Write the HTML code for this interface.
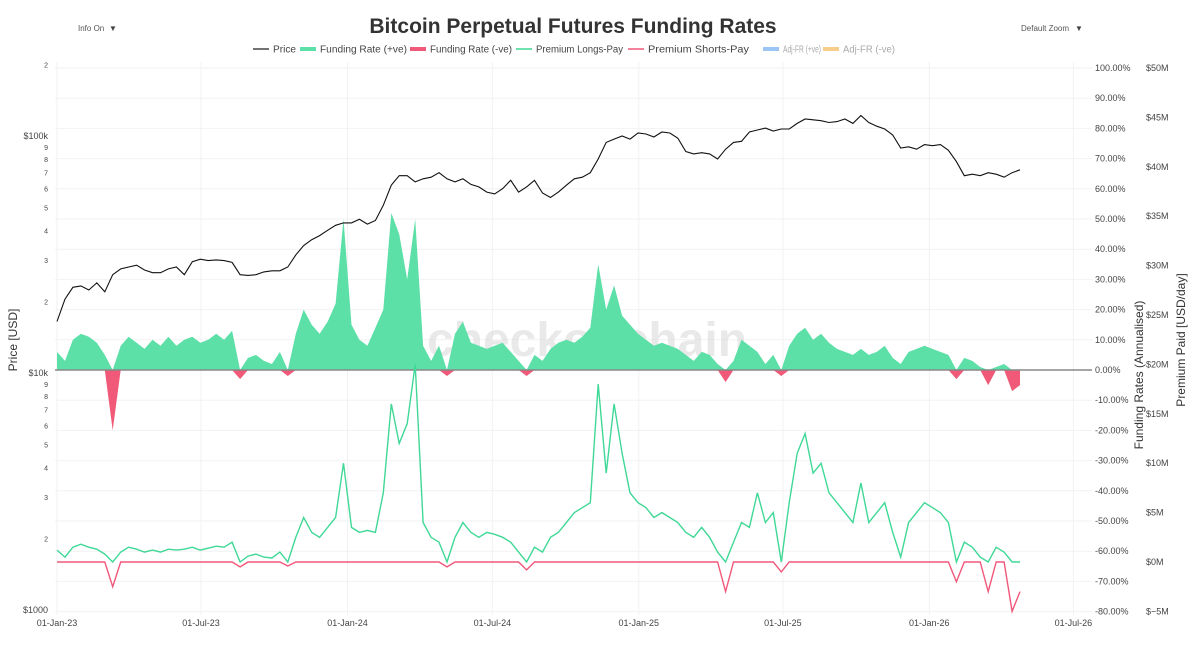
<!DOCTYPE html>
<html><head><meta charset="utf-8">
<style>
html,body{margin:0;padding:0;background:#fff;}
body{width:1200px;height:661px;overflow:hidden;font-family:"Liberation Sans",sans-serif;}
svg text{font-family:"Liberation Sans",sans-serif;}
</style></head>
<body>
<svg id="chart" width="1200" height="661" viewBox="0 0 1200 661" xmlns="http://www.w3.org/2000/svg">
  <text x="573" y="33" text-anchor="middle" font-size="21" font-weight="bold" fill="#333">Bitcoin Perpetual Futures Funding Rates</text>
  <g><rect x="66" y="18" width="60" height="22" fill="#fff"/><text x="78" y="31" font-size="8" fill="#555">Info On</text><text x="109" y="31" font-size="8" fill="#444">▼</text></g>
  <g><rect x="1012" y="18" width="75" height="22" fill="#fff"/><text x="1021" y="31" font-size="8" fill="#555">Default Zoom</text><text x="1075" y="31" font-size="8" fill="#444">▼</text></g>
  <g id="legend" font-size="10" fill="#444"></g>
  <g id="grid"></g>
  <text x="587" y="356" text-anchor="middle" font-size="48" font-weight="bold" fill="#d8d8d8" opacity="0.55">checkonchain</text>
  <g id="marks"></g>
  <g id="axes" font-size="9" fill="#444"></g>
  <text transform="translate(17,340) rotate(-90)" text-anchor="middle" font-size="12" fill="#333">Price [USD]</text>
  <text transform="translate(1143,375) rotate(-90)" text-anchor="middle" font-size="12" fill="#333">Funding Rates (Annualised)</text>
  <text transform="translate(1185,340) rotate(-90)" text-anchor="middle" font-size="12" fill="#333">Premium Paid [USD/day]</text>
</svg>
<script>
// data: one sample every 10 days starting 2023-01-01
const startDate = "2023-01-01";
const stepDays = 10;
const priceK = [16.5,20.5,23,23.3,22.4,24,22,26,27.5,28,28.5,27.2,26.5,26.5,27.5,28,26,29.5,30.2,29.8,30,29.8,29.3,26,25.8,26,26.7,27,27,28,31.5,34.5,36.5,38,40,42,43,43,44.5,42.5,44,51,62,68,68,64,66,67,70,66,64,66,62.5,61,58,57,60,65,58,61,65,57.5,55,58,62,66,67,70,80,94,97,100,97,103,102,99,104,103,98,86,84,85,84,80,88,94,95,104,106,108,105,107,107,113,118,117,116,114,115,118,113,122,114,110,107,101,89,90,88,92,91,92,87,78,68,69,68,70,69,67,70,72];
const fundingPct = [6,3,10,12,11,9,5,-20,8,11,9,7,10,8,11,8,10,11,9,10,12,10,13,-3,4,5,3,2,6,-2,12,20,15,12,16,22,50,15,10,8,14,20,52,45,30,50,8,3,8,-2,12,16,9,8,7,8,9,6,3,-2,5,3,7,9,10,9,11,14,35,20,28,18,15,12,10,8,9,8,7,5,3,6,5,2,-4,3,10,8,6,2,5,-2,8,12,14,10,12,9,7,6,5,7,5,6,8,4,2,6,7,8,7,6,5,-3,4,3,1,-5,1,2,-7,-5];
const premiumM = [1.2,0.5,1.5,1.8,1.5,1.3,0.8,-2.5,1.0,1.5,1.3,1.0,1.2,1.0,1.3,1.2,1.3,1.5,1.2,1.4,1.6,1.5,2.0,-0.5,0.6,0.8,0.5,0.4,1.0,-0.4,2.5,4.5,3.0,2.5,3.5,4.5,10,3.5,3.0,3.2,3.0,7,16,12,14,20,4,2.5,2.0,-0.5,2.5,4.0,3.0,2.5,3.0,2.8,2.5,2.0,1.0,-0.8,1.5,1.0,2.5,3.0,4.0,5.0,5.5,6.0,18,9,16,11,7,6,5.5,4.5,5,4.5,4,3,2.5,3.5,2.5,1.0,-3,2,4,3.5,7,4,5,-1,6,11,13,9,10,7,6,5,4,8,4,5,6,3,0.5,4,5,6,5.5,5,4,-2,2,1.5,0.5,-3,1.5,1.0,-5,-3];
const xTickLabels = ["01-Jan-23","01-Jul-23","01-Jan-24","01-Jul-24","01-Jan-25","01-Jul-25","01-Jan-26","01-Jul-26"];
const xTickDates = ["2023-01-01","2023-07-01","2024-01-01","2024-07-01","2025-01-01","2025-07-01","2026-01-01","2026-07-01"];
const fundingTicks = [100,90,80,70,60,50,40,30,20,10,0,-10,-20,-30,-40,-50,-60,-70,-80];
const premiumTicks = [50,45,40,35,30,25,20,15,10,5,0,-5];
const priceTickVals = [200000,100000,90000,80000,70000,60000,50000,40000,30000,20000,10000,9000,8000,7000,6000,5000,4000,3000,2000,1000];
const priceTickLabels = ["2","$100k","9","8","7","6","5","4","3","2","$10k","9","8","7","6","5","4","3","2","$1000"];

const NS="http://www.w3.org/2000/svg";
const DAY=86400000, t0=Date.parse("2023-01-01");
function xDate(s){return 57+(Date.parse(s)-t0)/DAY*0.7959;}
function xIdx(i){return 57+((Date.parse(startDate)-t0)/DAY+i*stepDays)*0.7959;}
function yFund(v){return 370-v*3.02;}
function yPrem(v){return 562-v*9.88;}
function yPrice(p){return 373-237*Math.log10(p/10000);}
function mk(tag,attrs,parent){const e=document.createElementNS(NS,tag);for(const k in attrs)e.setAttribute(k,attrs[k]);parent.appendChild(e);return e;}
const grid=document.getElementById('grid'),marks=document.getElementById('marks'),axes=document.getElementById('axes'),legend=document.getElementById('legend');

// grid
fundingTicks.forEach(v=>{const l=mk('line',{x1:55,x2:1092,y1:yFund(v),y2:yFund(v),stroke:'#f2f2f2','stroke-width':1},grid);

});
xTickDates.forEach(d=>{const l=mk('line',{x1:xDate(d),x2:xDate(d),y1:62,y2:615,stroke:'#f2f2f2','stroke-width':1},grid);

});

// funding area
function areaPath(sign){let d='M'+xIdx(0)+','+yFund(0);
 fundingPct.forEach((v,i)=>{const c=sign>0?Math.max(v,0):Math.min(v,0);d+=' L'+xIdx(i).toFixed(1)+','+yFund(c).toFixed(1);});
 d+=' L'+xIdx(fundingPct.length-1)+','+yFund(0)+' Z';return d;}
const ap=mk('path',{d:areaPath(1),fill:'#5ddfa8',stroke:'none'},marks);


const an=mk('path',{d:areaPath(-1),fill:'#f05a78',stroke:'none'},marks);


const zl=mk('line',{x1:55,x2:1092,y1:yFund(0),y2:yFund(0),stroke:'#888','stroke-width':1.5},marks);



// premium lines
function linePath(fn){return premiumM.map((v,i)=>(i?'L':'M')+xIdx(i).toFixed(1)+','+yPrem(fn(v)).toFixed(1)).join(' ');}
const pr=mk('path',{d:linePath(v=>Math.min(v,0)),fill:'none',stroke:'#f0587a','stroke-width':1.4},marks);


const pg=mk('path',{d:linePath(v=>Math.max(v,0)),fill:'none',stroke:'#3fd896','stroke-width':1.4},marks);



// price line
const pp=mk('path',{d:priceK.map((v,i)=>(i?'L':'M')+xIdx(i).toFixed(1)+','+yPrice(v*1000).toFixed(1)).join(' '),fill:'none',stroke:'#111','stroke-width':1.1},marks);



// axes labels
priceTickVals.forEach((v,i)=>{const t=mk('text',{x:48,y:yPrice(v)+3,'text-anchor':'end','font-size':priceTickLabels[i].length>1?9:7},axes);t.textContent=priceTickLabels[i];

});
fundingTicks.forEach(v=>{const t=mk('text',{x:1095,y:yFund(v)+3},axes);t.textContent=v.toFixed(2)+'%';

});
premiumTicks.forEach(v=>{const t=mk('text',{x:1146,y:yPrem(v)+3},axes);t.textContent=(v<0?'$−':'$')+Math.abs(v)+'M';

});
xTickLabels.forEach((s,i)=>{const t=mk('text',{x:xDate(xTickDates[i]),y:626,'text-anchor':'middle'},axes);t.textContent=s;

});

// legend
const legendNames=["Price","Funding Rate (+ve)","Funding Rate (-ve)","Premium Longs-Pay","Premium Shorts-Pay","Adj-FR (+ve)","Adj-FR (-ve)"];
const legendColors=["#444","#5ddfa8","#f05a78","#3fd896","#f0587a","#9cc6f5","#f7cd8a"];
const legendThick=[1.5,4,4,1.5,1.5,4,4];
const legendX=[253,300,410,516,628,763,823];
const legendW=[23,87,82,87,101,38,52];
legendNames.forEach((n,i)=>{const g=mk('g',{},legend);


mk('line',{x1:legendX[i],x2:legendX[i]+16,y1:49,y2:49,stroke:legendColors[i],'stroke-width':legendThick[i]},g);
const t=mk('text',{x:legendX[i]+20,y:52.5,fill:i>=5?'#aaa':'#444',textLength:legendW[i],lengthAdjust:'spacingAndGlyphs'},g);t.textContent=n;});
</script>
</body></html>
